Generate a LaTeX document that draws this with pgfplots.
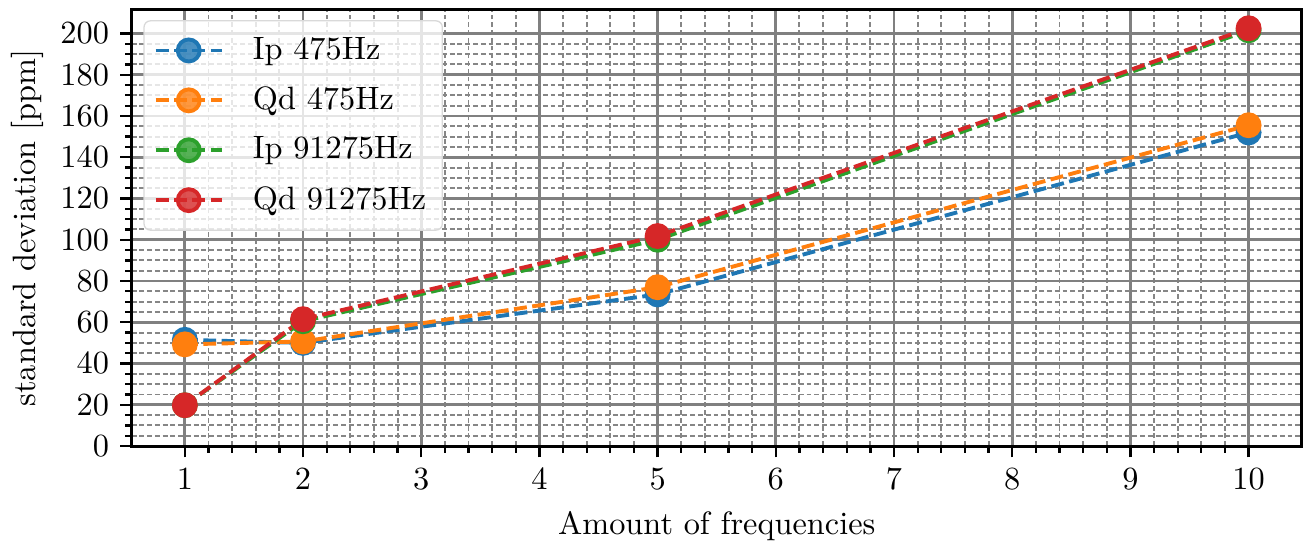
\documentclass[border=0pt]{standalone}
\usepackage{pgfplots}
\pgfplotsset{compat=1.18}
\definecolor{tabblue}{HTML}{1F77B4}
\definecolor{taborange}{HTML}{FF7F0E}
\definecolor{tabgreen}{HTML}{2CA02C}
\definecolor{tabred}{HTML}{D62728}
\begin{document}
\begin{tikzpicture}
\begin{axis}[
  width=362pt, height=135pt, scale only axis,
  xmin=0.55, xmax=10.45, ymin=0, ymax=211.5,
  xtick={1,2,...,10}, ytick={0,20,...,200},
  minor x tick num=4, minor y tick num=3,
  tick align=outside, xtick pos=left, ytick pos=left,
  major tick length=3.5pt, minor tick length=2pt,
  every tick/.style={black, line width=0.7pt},
  grid=both,
  major grid style={gray, line width=0.85pt},
  minor grid style={gray!95, line width=0.6pt, dash pattern=on 1.5pt off 0.9pt},
  axis line style={black, line width=0.9pt},
  xlabel={Amount of frequencies}, ylabel={standard deviation [ppm]},
  ylabel style={yshift=-1.5pt},
  legend style={fill=white, fill opacity=0.8, draw opacity=1, text opacity=1, draw=black!15, rounded corners=2pt, row sep=3pt, font=\normalsize, at={(0.010,0.976)}, anchor=north west, inner sep=3pt,
    /tikz/every odd column/.append style={column sep=7pt}},
  legend image code/.code={\draw[mark repeat=2,mark phase=2] plot coordinates {(0cm,0cm) (0.36cm,0cm) (0.72cm,0cm)};},
  legend cell align=left,
  every axis plot/.append style={line width=1.2pt, dash pattern=on 4pt off 1.7pt, mark=*, mark size=3.4pt, mark options={solid}},
]
\addplot[tabblue] coordinates {(1,51.5) (2,50) (5,73.5) (10,152)};
\addlegendentry{Ip 475Hz}
\addplot[taborange] coordinates {(1,49.3) (2,50.7) (5,77) (10,155.5)};
\addlegendentry{Qd 475Hz}
\addplot[tabgreen] coordinates {(1,19.8) (2,60.5) (5,100) (10,201.5)};
\addlegendentry{Ip 91275Hz}
\addplot[tabred] coordinates {(1,19.8) (2,61.5) (5,101.8) (10,202.5)};
\addlegendentry{Qd 91275Hz}
\end{axis}
\path (current axis.north east) ++(1pt,3pt) coordinate (bbpad);
\useasboundingbox (current bounding box.south west) rectangle (bbpad);
\end{tikzpicture}
\end{document}
